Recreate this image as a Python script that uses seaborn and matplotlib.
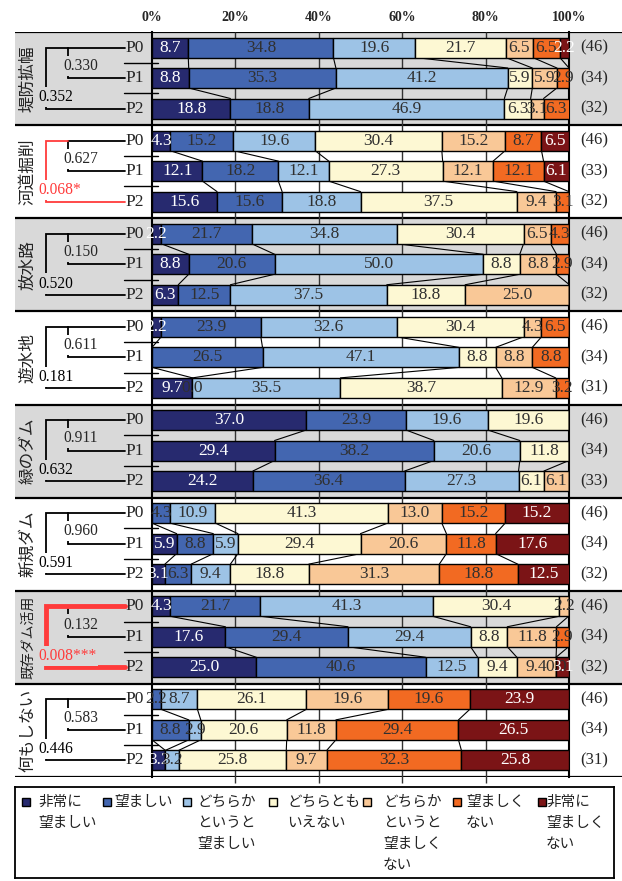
import numpy as np
import matplotlib
matplotlib.use("Agg")
import matplotlib.pyplot as plt
from matplotlib.patches import Rectangle
import seaborn as sns

nan = np.nan

# 回答カテゴリ（凡例）
categories = ["非常に\n望ましい", "望ましい", "どちらか\nというと\n望ましい", "どちらとも\nいえない",
              "どちらか\nというと\n望ましく\nない", "望ましく\nない", "非常に\n望ましく\nない"]
colors = ["#272A6F", "#4366B0", "#9DC3E6", "#FDF8D3", "#F9C897", "#F26A22", "#7B1416"]

groups = ["堤防拡幅", "河道掘削", "放水路", "遊水地", "緑のダム", "新規ダム", "既存ダム活用", "何もしない"]
periods = ["P0", "P1", "P2"]

# 各対策の割合（%）: 行 = P0, P1, P2
teibou = [[8.7, 34.8, 19.6, 21.7, 6.5, 6.5, 2.2],
          [8.8, 35.3, 41.2, 5.9, 5.9, 2.9, nan],
          [18.8, 18.8, 46.9, 6.3, 3.1, 6.3, nan]]
kadou = [[4.3, 15.2, 19.6, 30.4, 15.2, 8.7, 6.5],
         [12.1, 18.2, 12.1, 27.3, 12.1, 12.1, 6.1],
         [15.6, 15.6, 18.8, 37.5, 9.4, 3.1, nan]]
housui = [[2.2, 21.7, 34.8, 30.4, 6.5, 4.3, nan],
          [8.8, 20.6, 50.0, 8.8, 8.8, 2.9, nan],
          [6.3, 12.5, 37.5, 18.8, 25.0, nan, nan]]
yusui = [[2.2, 23.9, 32.6, 30.4, 4.3, 6.5, nan],
         [nan, 26.5, 47.1, 8.8, 8.8, 8.8, nan],
         [9.7, 0.0, 35.5, 38.7, 12.9, 3.2, nan]]
midori = [[37.0, 23.9, 19.6, 19.6, nan, nan, nan],
          [29.4, 38.2, 20.6, 11.8, nan, nan, nan],
          [24.2, 36.4, 27.3, 6.1, 6.1, nan, nan]]
shinki = [[nan, 4.3, 10.9, 41.3, 13.0, 15.2, 15.2],
          [5.9, 8.8, 5.9, 29.4, 20.6, 11.8, 17.6],
          [3.1, 6.3, 9.4, 18.8, 31.3, 18.8, 12.5]]
kizon = [[4.3, 21.7, 41.3, 30.4, 2.2, nan, nan],
         [17.6, 29.4, 29.4, 8.8, 11.8, 2.9, nan],
         [25.0, 40.6, 12.5, 9.4, 9.4, 0.0, 3.1]]
nashi = [[nan, 2.2, 8.7, 26.1, 19.6, 19.6, 23.9],
         [nan, 8.8, 2.9, 20.6, 11.8, 29.4, 26.5],
         [3.2, nan, 3.2, 25.8, 9.7, 32.3, 25.8]]
all_data = [teibou, kadou, housui, yusui, midori, shinki, kizon, nashi]

# 回答者数
n_resp = [[46, 34, 32], [46, 33, 32], [46, 34, 32], [46, 34, 31],
          [46, 34, 33], [46, 34, 32], [46, 34, 32], [46, 34, 31]]

# 検定のp値（P0-P1, P0-P2）
p_01 = ["0.330", "0.627", "0.150", "0.611", "0.911", "0.960", "0.132", "0.583"]
p_02 = ["0.352", "0.068*", "0.520", "0.181", "0.632", "0.591", "0.008***", "0.446"]

sns.set_theme(style="white")
plt.rcParams["font.family"] = ["Liberation Serif", "Noto Sans CJK JP"]
JP = ["Noto Sans CJK JP", "DejaVu Sans"]
SERIF = ["Liberation Serif", "DejaVu Serif"]

W, H = 622, 881
TOP, BOT = 32, 777
X0, X1 = 152, 569
GH = (BOT - TOP) / len(groups)
ROW_OFF = [15.5, 46.0, 76.5]
BAR_H = 20
GREY = "#d9d9d9"
RED = "#ff3b3b"

fig = plt.figure(figsize=(W / 100, H / 100), dpi=100)

bg = fig.add_axes([15 / W, 1 - BOT / H, (W - 15) / W, (BOT - TOP) / H], zorder=0)
bg.set_xlim(15, W)
bg.set_ylim(BOT, TOP)
bg.axis("off")

ax = fig.add_axes([X0 / W, 1 - BOT / H, (X1 - X0) / W, (BOT - TOP) / H], zorder=2)
ax.set_facecolor("none")
ax.set_xlim(0, 100)
ax.set_ylim(BOT, TOP)

ax.vlines([20, 40, 60, 80], TOP, BOT + 6, color="#333333", lw=1.0, zorder=0, clip_on=False)

for g, (name, data) in enumerate(zip(groups, all_data)):
    gtop = TOP + g * GH
    face = GREY if g % 2 == 0 else "white"
    if g % 2 == 0:
        bg.axhspan(gtop, gtop + GH, color=GREY, lw=0)

    vals = np.array(data, dtype=float)
    widths = np.nan_to_num(vals)
    lefts = np.hstack([np.zeros((3, 1)), np.cumsum(widths, axis=1)[:, :-1]])
    ys = [gtop + o for o in ROW_OFF]

    for k in range(len(categories)):
        cont = ax.barh(ys, widths[:, k], left=lefts[:, k], height=BAR_H,
                       color=colors[k], edgecolor="black", lw=1.0, zorder=3)
        labels = ["" if np.isnan(v) else f"{v:.1f}" for v in vals[:, k]]
        tc = "white" if k in (0, 6) else "#303030"
        ax.bar_label(cont, labels=labels, label_type="center", fontsize=12.5,
                     color=tc, family=SERIF, zorder=4)

    # 系列線
    ends = np.cumsum(widths, axis=1)
    for j in range(2):
        for k in range(len(categories) - 1):
            ax.plot([ends[j, k], ends[j + 1, k]], [ys[j] + BAR_H / 2, ys[j + 1] - BAR_H / 2],
                    color="black", lw=0.8, zorder=2)

    # 対策名
    bg.text(28, gtop + GH / 2, name, rotation=90, ha="center", va="center",
            fontsize=12 if len(name) <= 5 else 10, family=JP, color="#222222")

    # 区間ラベル・目盛
    for y, p in zip(ys, periods):
        bg.text(144, y, p, ha="right", va="center", fontsize=12.5, family=SERIF)
    for j in range(2):
        bg.plot([124, 158], [(ys[j] + ys[j + 1]) / 2] * 2, color="black", lw=1.0)

    # 回答者数
    for y, n in zip(ys, n_resp[g]):
        bg.text(594, y, f"({n})", ha="center", va="center", fontsize=12, family=SERIF)

    # 検定ブラケット
    xo, xi, xe = 46, 68, 125
    bg.plot([xi, xi], [ys[0], ys[1]], color="black", lw=1.3)
    bg.plot([xi, xe], [ys[0], ys[0]], color="black", lw=1.3)
    bg.plot([xi, xe], [ys[1], ys[1]], color="black", lw=1.3)
    sig = "*" in p_02[g]
    strong = p_02[g].endswith("***")
    oc = RED if sig else "black"
    olw = 3.5 if strong else 1.3
    p0_end = xe if strong else xi
    bg.plot([p0_end, xo, xo, xe], [ys[0], ys[0], ys[2], ys[2]], color=oc, lw=olw,
            solid_joinstyle="miter")
    bg.text(63, (ys[0] + ys[1]) / 2 + 3, p_01[g], ha="left", va="center", fontsize=11.2,
            family=SERIF, bbox=dict(facecolor=face, edgecolor="none", pad=1.5))
    bg.text(38, (ys[1] + ys[2]) / 2 + 4, p_02[g], ha="left", va="center", fontsize=11.2,
            family=SERIF, color=oc, bbox=dict(facecolor=face, edgecolor="none", pad=1.5))

bg.hlines([TOP + g * GH for g in range(len(groups) + 1)], 15, W, color="black", lw=1.6)

ax.set_yticks([])
ax.xaxis.tick_top()
ax.set_xticks([0, 20, 40, 60, 80, 100])
ax.set_xticklabels([f"{t}%" for t in range(0, 101, 20)], fontsize=10, fontweight="bold",
                   family=SERIF)
ax.tick_params(axis="x", length=0, pad=6)
for s in ("top", "bottom"):
    ax.spines[s].set_visible(False)
for s in ("left", "right"):
    ax.spines[s].set_color("black")
    ax.spines[s].set_linewidth(1.5)

# 凡例
leg = fig.add_axes([15 / W, 1 - 878 / H, (614 - 15) / W, (878 - 787) / H])
leg.set_xlim(15, 614)
leg.set_ylim(878, 787)
leg.set_xticks([])
leg.set_yticks([])
for s in leg.spines.values():
    s.set_color("black")
    s.set_linewidth(1.3)
sq_x = [22, 103, 183, 269, 363, 453, 538]
tx_x = [38, 114, 197, 287, 383, 466, 546]
for c, label, sx, tx in zip(colors, categories, sq_x, tx_x):
    leg.add_patch(Rectangle((sx, 798), 8, 8, facecolor=c, edgecolor="black", lw=1.0))
    for i, line in enumerate(label.split("\n")):
        leg.text(tx, 802 + 21 * i, line, ha="left", va="center", fontsize=10.5, family=JP,
                 color="#222222")

fig.savefig("out.png", dpi=100)
